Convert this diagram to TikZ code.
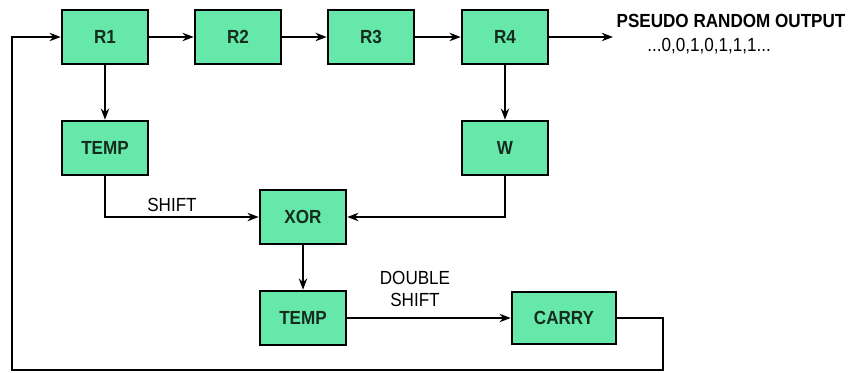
\documentclass[tikz,border=0pt]{standalone}
\usepackage{fontspec}
\setmainfont{Liberation Sans}[FakeStretch=0.9]
\usetikzlibrary{positioning,arrows.meta}
\definecolor{mint}{RGB}{102,232,170}
\definecolor{ink}{RGB}{20,45,30}

\begin{document}
\begin{tikzpicture}[x=0.025cm, y=-0.025cm, >={Stealth[length=8pt,width=6pt]},
    reg/.style={draw=black, line width=1.8pt, fill=mint, minimum width=2.15cm,
      minimum height=1.35cm, font=\fontsize{13.5}{15}\selectfont\bfseries, text=ink},
    lbl/.style={font=\fontsize{13.5}{15}\selectfont, align=center, inner sep=0pt},
    wire/.style={line width=1.1pt}]
  \useasboundingbox (0,0) rectangle (848,373);
  \node[reg] (r1) at (105,37) {R1};
  \node[reg] (r2) at (238,37) {R2};
  \node[reg] (r3) at (371,37) {R3};
  \node[reg] (r4) at (505,37) {R4};
  \node[reg] (temp1) at (105,148) {TEMP};
  \node[reg] (w) at (505,148) {W};
  \node[reg] (xor) at (303,217) {XOR};
  \node[reg] (temp2) at (303,318) {TEMP};
  \node[reg, minimum width=2.6cm, minimum height=1.3cm] (carry) at (564,318) {CARRY};
  \coordinate (out) at (613,37);
  \coordinate (c1) at (663,318);
  \coordinate (c2) at (663,370);
  \coordinate (c3) at (12,370);
  \coordinate (c4) at (12,37);
  \node[lbl, font=\fontsize{13.5}{15}\selectfont\bfseries] (title) at (731,21) {PSEUDO RANDOM OUTPUT};
  \node[lbl] (seq) at (709,46) {...0,0,1,0,1,1,1...};
  \node[lbl] (shift) at (172,205) {SHIFT};
  \node[lbl] (dshift) at (415,289) {DOUBLE\\SHIFT};
  \path[->, wire]
    (r1) edge (r2)
         edge (temp1)
    (r2) edge (r3)
    (r3) edge (r4)
    (r4) edge (out)
         edge (w)
    (xor) edge (temp2)
    (temp2) edge (carry);
  \draw[->, wire] (temp1.south) |- (xor.west);
  \draw[->, wire] (w.south) |- (xor.east);
  \draw[->, wire] (carry.east) -- (c1) -- (c2) -- (c3) -- (c4) -- (r1.west);
\end{tikzpicture}
\end{document}
